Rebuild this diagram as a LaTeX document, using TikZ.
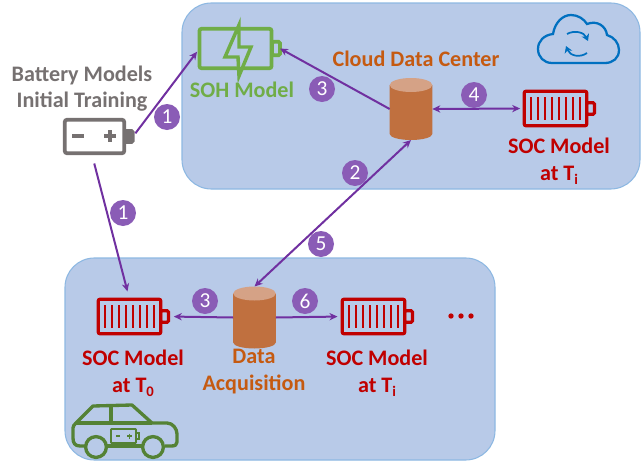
\documentclass[tikz,border=0pt]{standalone}
\usepackage{fontspec}
\setmainfont{Carlito}
\usetikzlibrary{positioning,arrows.meta}
\definecolor{panelfill}{HTML}{B8CAE8}
\definecolor{panelline}{HTML}{8DB8E2}
\definecolor{flowline}{HTML}{7030A0}
\definecolor{badgefill}{HTML}{8A5CB6}
\definecolor{socred}{HTML}{C00000}
\definecolor{sohgreen}{HTML}{70AD47}
\definecolor{cargreen}{HTML}{548235}
\definecolor{dbbody}{HTML}{C0703F}
\definecolor{dbtop}{HTML}{D5A286}
\definecolor{dbtext}{HTML}{C55A11}
\definecolor{traingray}{HTML}{767171}
\definecolor{cloudblue}{HTML}{0070C0}
\newcommand{\tsub}[1]{\raisebox{-2.8pt}{\fontsize{11}{11}\selectfont #1}}
\tikzset{
  panel/.style={draw=panelline,fill=panelfill,line width=.8pt,rounded corners=22pt},
  flow/.style={draw=flowline,line width=1.5pt,-{Stealth[length=6pt,width=5.5pt]}},
  twoflow/.style={flow,{Stealth[length=6pt,width=5.5pt]}-{Stealth[length=6pt,width=5.5pt]}},
  badge/.style={circle,fill=badgefill,text=white,minimum size=19.5pt,inner sep=0pt,font=\fontsize{16}{18}\selectfont},
  caption/.style={font=\fontsize{16.6}{19}\bfseries\selectfont,text height=12pt,text depth=3pt,inner sep=0pt},
  cellbody/.style={draw,rounded corners=1.5pt,line width=2.4pt,inner sep=0pt,outer sep=0pt,minimum width=47pt,minimum height=26pt},
  cellcap/.style={draw,rounded corners=1pt,line width=2.4pt,inner sep=0pt,outer sep=0pt,minimum width=6pt,minimum height=8.5pt},
  dbframe/.style={inner sep=0pt,outer sep=0pt,minimum width=32pt,minimum height=46.5pt}
}
% red battery with its bars: name, x, y
\newcommand{\socbatt}[3]{
  \node [cellcap,draw=socred] (#1Cap) at (#2+35,#3) {};
  \node [cellbody,draw=socred,fill=panelfill] (#1) at (#2,#3) {};
  \foreach \k in {-24.5,-17.5,...,24.5}
    \draw [socred,line width=2.1pt] (#2+\k,#3-11.5) -- (#2+\k,#3+11.5);
}
% storage drum: name, x, y
\newcommand{\datadrum}[3]{
  \fill [dbbody] (#2-21.3,#3-24) -- (#2-21.3,#3+25) arc (180:0:21.3 and 6) -- (#2+21.3,#3-24) -- cycle;
  \fill [dbtop] (#2,#3-24) ellipse [x radius=21.3,y radius=7];
  \node [dbframe] (#1) at (#2,#3) {};
}

\begin{document}
\begin{tikzpicture}[x=.75pt,y=-.75pt]
      \useasboundingbox (0,0) rectangle (644,461);
      \path [panel] (182,3) rectangle (640,189);
      \path [panel] (65,258) rectangle (495,460);

      % batteries
      \node [cellcap,draw=traingray,fill=traingray] (TrainCap) at (129,136.5) {};
      \node [cellbody,draw=traingray,fill=white,minimum width=44.5pt,minimum height=25pt,line width=2.8pt] (Train) at (94.5,136.5) {};
      \draw [traingray,line width=2.6pt] (72,136) -- (84,136) (104,136) -- (116,136) (110,130) -- (110,142);

      \node [cellcap,draw=sohgreen,minimum height=10pt,line width=2.8pt] (SohCap) at (276,48.5) {};
      \node [cellbody,draw=sohgreen,fill=panelfill,minimum width=54pt,minimum height=29.5pt,line width=2.8pt] (Soh) at (235.5,48.5) {};
      \draw [sohgreen,fill=panelfill,line width=2.6pt,line join=miter] (239,25) -- (225,57) -- (238,57) -- (239,76) -- (251,47) -- (239,47) -- cycle;

      \socbatt{SocCloud}{555.5}{108.5}
      \socbatt{SocZero}{129.5}{316.5}
      \socbatt{SocNext}{373.5}{316.5}
      \foreach \k in {451,461,471}
        \fill [socred] (\k,316) circle (2pt);

      % storage
      \datadrum{Cloud}{411}{109}
      \datadrum{Acq}{254.5}{317.5}

      % flows
      \draw [flow,shorten <=3pt,shorten >=3pt] (TrainCap.east) -- (Soh.west);
      \draw [flow,shorten <=8pt,shorten >=6pt] (Train.260) -- (SocZero.north);
      \draw [flow] (Cloud.west) -- (SohCap.east);
      \draw [twoflow,shorten >=3pt] (Cloud.east) -- (SocCloud.west);
      \draw [twoflow] (Cloud.south) -- (Acq.north);
      \draw [flow,shorten >=4pt] (Acq.west) -- (SocZeroCap.east);
      \draw [flow,shorten >=3.5pt] (Acq.east) -- (SocNext.west);

      % steps
      \node [badge] (StepA) at (167,117) {1};
      \node [badge] (StepB) at (123,213) {1};
      \node [badge] (StepC) at (322,89) {3};
      \node [badge] (StepD) at (474,95) {4};
      \node [badge] (StepE) at (355,173) {2};
      \node [badge] (StepF) at (321,244) {5};
      \node [badge] (StepG) at (205,301) {3};
      \node [badge] (StepH) at (305,301) {6};

      % labels
      \node [caption,text=traingray] (TrainA) at (82,75) {Battery Models};
      \node [caption,text=traingray,on grid,below=19.5pt of TrainA] (TrainB) {Initial Training};
      \node [caption,text=sohgreen] (SohText) at (242,91) {SOH Model};
      \node [caption,text=dbtext] (CloudText) at (416,60) {Cloud Data Center};
      \node [caption,text=socred] (SocA) at (559,147) {SOC Model};
      \node [caption,text=socred,on grid,below=20.5pt of SocA] (SocB) {at T\tsub{i}};
      \node [caption,text=socred] (SocC) at (133,359) {SOC Model};
      \node [caption,text=socred,on grid,below=20.5pt of SocC] (SocD) {at T\tsub{0}};
      \node [caption,text=socred] (SocE) at (377,359) {SOC Model};
      \node [caption,text=socred,on grid,below=20.5pt of SocE] (SocF) {at T\tsub{i}};
      \node [caption,text=dbtext] (AcqA) at (254,357) {Data};
      \node [caption,text=dbtext,on grid,below=20.5pt of AcqA] (AcqB) {Acquisition};

      % cloud with sync arrows
      \draw [cloudblue,line width=1.7pt] (552,63) -- (605,63) .. controls (613,63) and (619,58) .. (619,50)
        .. controls (619,43) and (614,37) .. (607,35) .. controls (606,26) and (597,20) .. (587,24)
        .. controls (584,19) and (578,15) .. (571,15) .. controls (563,15) and (555,22) .. (553,34)
        .. controls (544,35) and (538,41) .. (538,49) .. controls (538,57) and (544,63) .. (552,63) -- cycle;
      \draw [cloudblue,line width=1.3pt,-{Stealth[length=5pt,width=6pt]}] (567,34) .. controls (574,30) and (584,32) .. (588,41);
      \draw [cloudblue,line width=1.3pt,-{Stealth[length=5pt,width=6pt]}] (587,53) .. controls (580,58) and (570,56) .. (566,46);

      % car
      \draw [cargreen,line width=2.5pt,line join=round] (85,446) -- (80,446) .. controls (75,446) and (73,443) .. (73,438)
        -- (73,428) .. controls (73,426) and (74,425) .. (76,423) -- (93,406) -- (132,405) -- (152,423)
        -- (167,423) .. controls (173,423) and (177,429) .. (177,434) -- (177,442) .. controls (177,445) and (175,446) .. (171,446) -- (165,446);
      \draw [cargreen,line width=2.5pt] (76,423) -- (152,423) (111,405) -- (111,423) (107,446) -- (142,446);
      \draw [cargreen,line width=2.5pt] (96,447) circle (7.8pt) (153,447) circle (7.8pt);
      \draw [cargreen,line width=1.4pt,rounded corners=.6pt] (111,429) rectangle (136,443);
      \draw [cargreen,line width=1.4pt] (136,433) -- (139,433) -- (139,439) -- (136,439);
      \draw [cargreen,line width=1.3pt] (116,436) -- (120,436) (127,436) -- (132,436) (129.5,433.5) -- (129.5,438.5);
\end{tikzpicture}
\end{document}
